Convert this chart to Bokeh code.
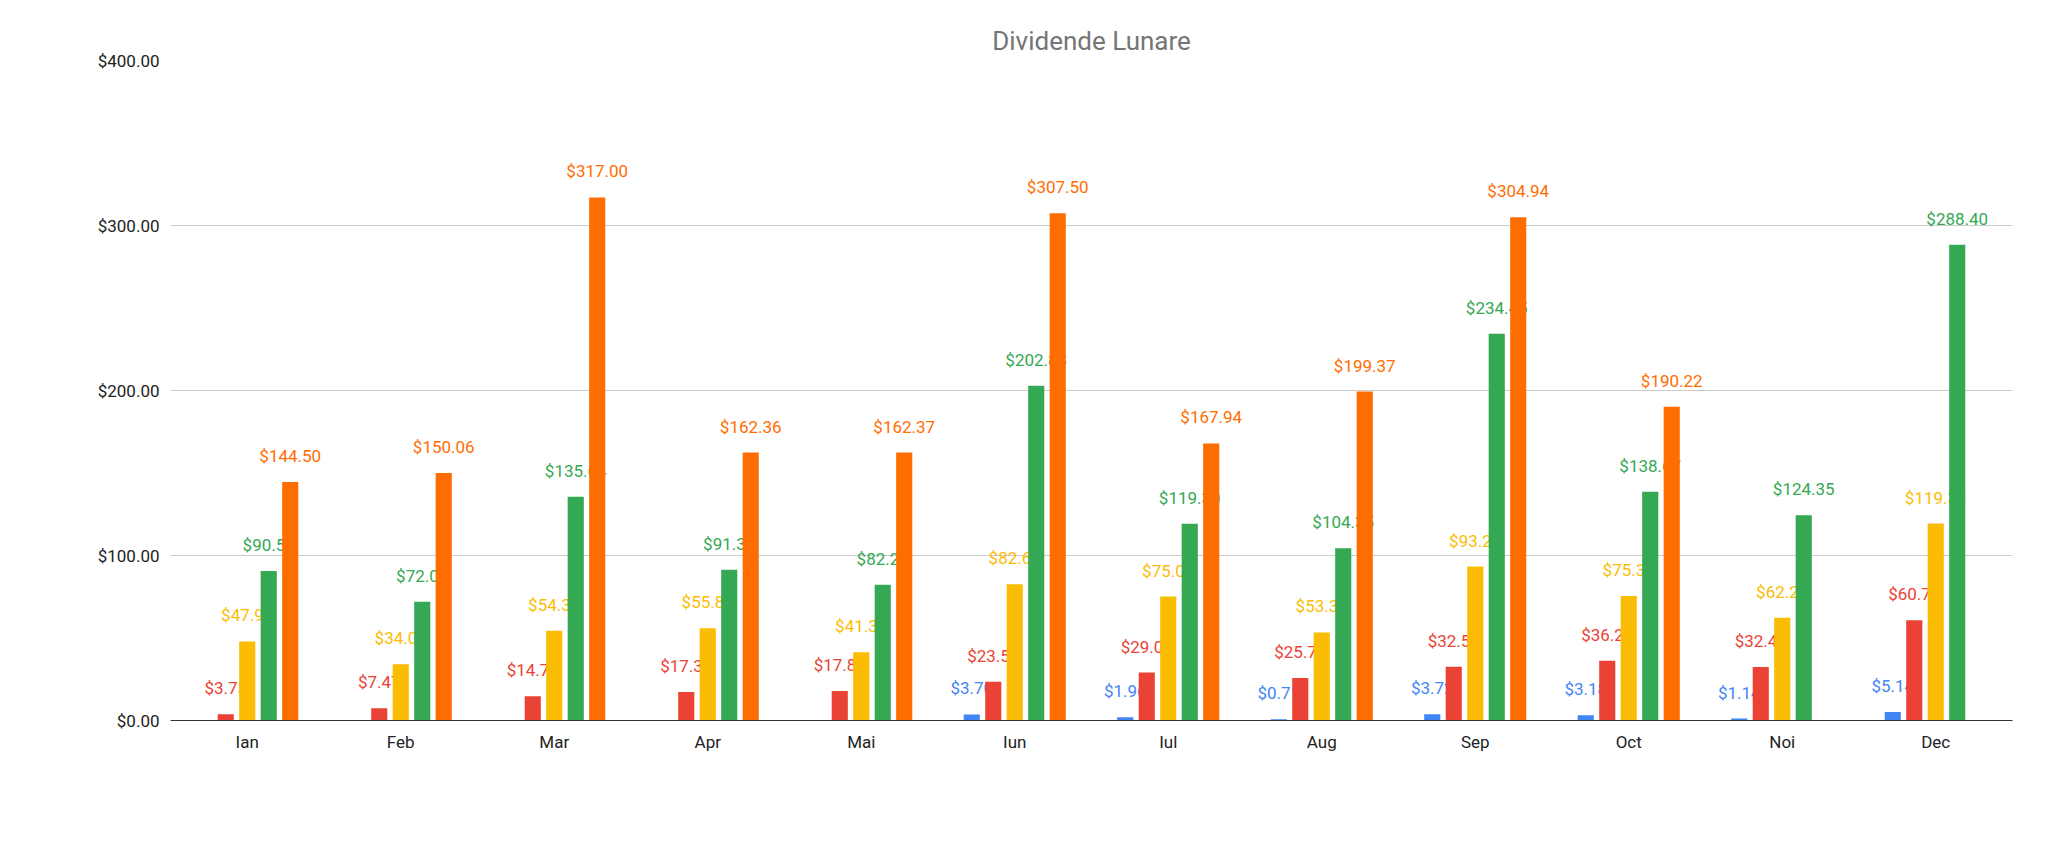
from bokeh.plotting import figure
from bokeh.models import ColumnDataSource, NumeralTickFormatter, Legend, LegendItem, FixedTicker, Range1d
from bokeh.transform import dodge
from bokeh.embed import file_html
from bokeh.resources import INLINE

months = ["Ian", "Feb", "Mar", "Apr", "Mai", "Iun", "Iul", "Aug", "Sep", "Oct", "Noi", "Dec"]
years = ["2019", "2020", "2021", "2022", "2023"]
v2019 = [0, 0, 0, 0, 0, 3.70, 1.96, 0.71, 3.72, 3.18, 1.14, 5.14]
v2020 = [3.75, 7.47, 14.75, 17.31, 17.87, 23.52, 29.04, 25.70, 32.52, 36.22, 32.40, 60.79]
v2021 = [47.90, 34.07, 54.37, 55.86, 41.36, 82.61, 75.08, 53.35, 93.29, 75.39, 62.28, 119.33]
v2022 = [90.56, 72.04, 135.64, 91.32, 82.27, 202.83, 119.30, 104.35, 234.45, 138.67, 124.35, 288.40]
v2023 = [144.50, 150.06, 317.00, 162.36, 162.37, 307.50, 167.94, 199.37, 304.94, 190.22, 0, 0]
series = [v2019, v2020, v2021, v2022, v2023]
colors = ["#4285F4", "#EA4335", "#FBBC04", "#34A853", "#FF6D01"]
offsets = [-0.28, -0.14, 0.0, 0.14, 0.28]

p = figure(x_range=months, width=2032, height=825, output_backend="svg",
           toolbar_location=None, title="Dividende Lunare",
           min_border_left=170, min_border_right=20, min_border_top=60,
           min_border_bottom=105)
p.y_range = Range1d(0, 400)
p.title.align = "center"
p.title.text_color = "#757575"
p.title.text_font = "Roboto"
p.title.text_font_size = "26px"
p.title.text_font_style = "normal"
p.outline_line_color = None
p.xgrid.grid_line_color = None
p.ygrid.grid_line_color = "#cccccc"
p.yaxis.ticker = FixedTicker(ticks=[0, 100, 200, 300, 400])
p.yaxis.formatter = NumeralTickFormatter(format="$0.00")
p.yaxis.axis_line_color = None
p.yaxis.major_tick_line_color = None
p.yaxis.minor_tick_line_color = None
p.xaxis.major_tick_line_color = None
p.xaxis.axis_line_color = "#333333"
for ax in (p.xaxis, p.yaxis):
    ax.major_label_text_font = "Roboto"
    ax.major_label_text_font_size = "17px"
    ax.major_label_text_color = "#222222"

items = []
for yr, vals, col, off in zip(years, series, colors, offsets):
    src = ColumnDataSource(dict(m=months, v=vals))
    r = p.vbar(x=dodge("m", off, range=p.x_range), top="v", width=0.105, source=src,
               fill_color=col, line_color=None)
    items.append(LegendItem(label=yr, renderers=[r]))
    lm = [m for m, v in zip(months, vals) if v > 0]
    lv = [v for v in vals if v > 0]
    ls = ColumnDataSource(dict(m=lm, v=lv, t=["$%.2f" % v for v in lv]))
    p.text(x=dodge("m", off, range=p.x_range), y="v", text="t", source=ls,
           text_align="center", text_baseline="bottom", y_offset=-16,
           text_color=col, text_font_size="17px", text_font={"value": "Roboto"})

legend = Legend(items=items, orientation="horizontal", location=(720, -95),
                label_text_font="Roboto", label_text_font_size="17px",
                label_text_color="#222222", border_line_color=None,
                background_fill_alpha=0,
                glyph_width=16, glyph_height=16, spacing=24)
p.add_layout(legend, "center")

open("out.html", "w").write(file_html(p, INLINE))
